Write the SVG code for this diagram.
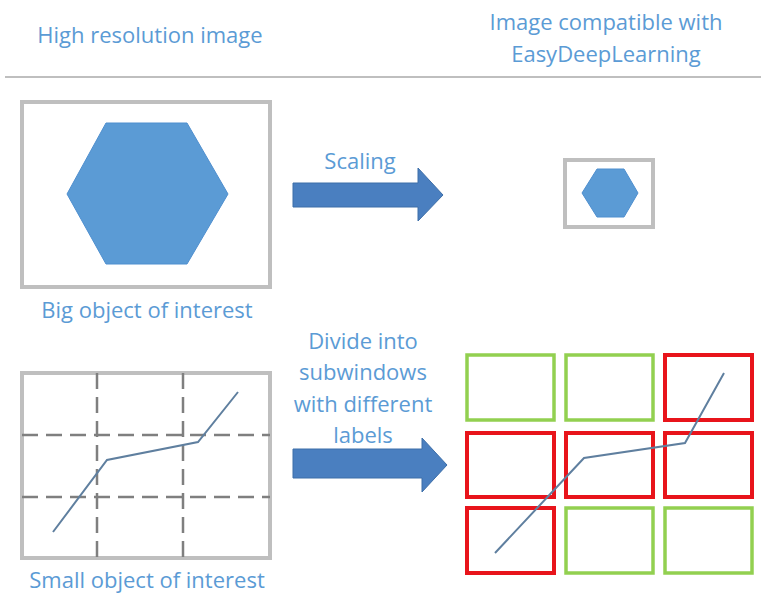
<svg xmlns="http://www.w3.org/2000/svg" width="761" height="596" viewBox="0 0 761 596">
<style>
.t{font-family:"Open Sans","Liberation Sans",sans-serif;font-size:22px;fill:#5b9bd5;text-anchor:middle}
.frame{fill:#fff;stroke:#bfbfbf;stroke-width:4}
.hex{fill:#5b9bd5;stroke:#4f8fcf;stroke-width:1}
.arrow{fill:#4a7fc0;stroke:#3d6ea8;stroke-width:1}
.dash{stroke:#7f7f7f;stroke-width:2.5;stroke-dasharray:16 8;fill:none}
.curve{fill:none;stroke:#5f7f9f;stroke-width:2}
.g{fill:#fff;stroke:#92d050;stroke-width:3.5}
.r{fill:#fff;stroke:#e8141b;stroke-width:4}
</style>
<rect width="761" height="596" fill="#fff"/>
<g id="header">
<text class="t" x="150" y="43">High resolution image</text>
<text class="t" x="606" y="30">Image compatible with</text>
<text class="t" x="606" y="62">EasyDeepLearning</text>
<line x1="5" y1="77" x2="761" y2="77" stroke="#bfbfbf" stroke-width="2"/>
</g>
<g id="big-image">
<rect class="frame" x="22" y="102" width="248" height="185"/>
<polygon class="hex" points="106,123 187,123 228,194 187,264 106,264 67,194"/>
<text class="t" x="147" y="318">Big object of interest</text>
</g>
<g id="small-result">
<rect class="frame" x="565" y="160" width="88" height="67" stroke-width="3"/>
<polygon class="hex" points="597,169 624,169 638,193 624,217 597,217 582,193"/>
</g>
<g id="small-image">
<rect class="frame" x="22" y="373" width="248" height="185"/>
<line class="dash" x1="97" y1="373" x2="97" y2="558"/>
<line class="dash" x1="183" y1="373" x2="183" y2="558"/>
<line class="dash" x1="22" y1="435" x2="270" y2="435"/>
<line class="dash" x1="22" y1="497" x2="270" y2="497"/>
<polyline class="curve" points="53,532 107,460 198,442 238,392"/>
<text class="t" x="147" y="588">Small object of interest</text>
</g>
<g id="subwindows">
<rect class="g" x="467" y="355" width="87" height="65"/>
<rect class="g" x="566" y="355" width="87" height="65"/>
<rect class="r" x="665" y="355" width="87" height="65"/>
<rect class="r" x="467" y="433" width="87" height="64"/>
<rect class="r" x="566" y="433" width="87" height="64"/>
<rect class="r" x="665" y="433" width="87" height="64"/>
<rect class="r" x="467" y="508" width="87" height="65"/>
<rect class="g" x="566" y="508" width="87" height="65"/>
<rect class="g" x="665" y="508" width="87" height="65"/>
<polyline class="curve" points="495,553 584,458 685,443 724,373"/>
</g>
<g id="connectors">
<polygon class="arrow" points="293,183 418,183 418,168 443,195 418,221 418,207 293,207"/>
<text class="t" x="360" y="169">Scaling</text>
<polygon class="arrow" points="293,449 422,449 422,438 447,465 422,492 422,478 293,478"/>
<text class="t" x="363" y="349">Divide into</text>
<text class="t" x="363" y="380">subwindows</text>
<text class="t" x="363" y="412">with different</text>
<text class="t" x="363" y="443">labels</text>
</g>
</svg>
